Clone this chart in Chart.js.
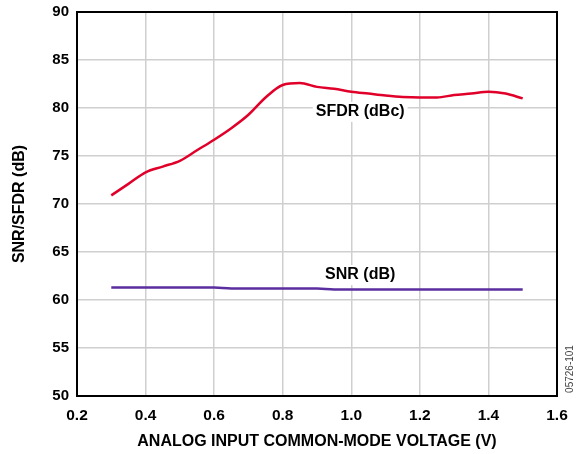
<!DOCTYPE html>
<html>
<head>
<meta charset="utf-8">
<script src="https://cdn.jsdelivr.net/npm/chart.js@4/dist/chart.umd.min.js"></script>
<style>
  html, body { margin: 0; padding: 0; background: #fff; }
  #wrap { width: 580px; height: 454px; }
</style>
</head>
<body>
<div id="wrap"><canvas id="myChart" width="580" height="454"></canvas></div>
<script>
// common-mode voltage (V)
const voltaje = [0.30, 0.35, 0.40, 0.45, 0.50, 0.55, 0.60, 0.65, 0.70, 0.75, 0.80, 0.85, 0.90, 0.95,
                 1.00, 1.05, 1.10, 1.15, 1.20, 1.25, 1.30, 1.35, 1.40, 1.45, 1.50];
const sfdr = [70.9, 72.1, 73.3, 73.9, 74.5, 75.6, 76.7, 77.9, 79.3, 81.1, 82.4, 82.6, 82.2, 82.0,
              81.7, 81.5, 81.3, 81.15, 81.1, 81.1, 81.35, 81.5, 81.7, 81.5, 81.0];
const snr = [61.3, 61.3, 61.3, 61.3, 61.3, 61.3, 61.3, 61.2, 61.2, 61.2, 61.2, 61.2, 61.2, 61.1,
             61.1, 61.1, 61.1, 61.1, 61.1, 61.1, 61.1, 61.1, 61.1, 61.1, 61.1];
const xTicks = [0.2, 0.4, 0.6, 0.8, 1.0, 1.2, 1.4, 1.6];
const yTicks = [50, 55, 60, 65, 70, 75, 80, 85, 90];
// curve labels: [text, x, y]
const etiquetas = [['SFDR (dBc)', 1.026, 79.6], ['SNR (dB)', 1.026, 62.6]];
const codigo = '05726-101';

const fuente = "'Liberation Sans', Arial, sans-serif";
const toPts = (ys) => voltaje.map((v, i) => ({ x: v, y: ys[i] }));

// curve labels (under the lines), frame round the plot and figure code
const extras = {
    id: 'extras',
    beforeDatasetsDraw(chart) {
        const { ctx, scales } = chart;
        ctx.save();
        ctx.font = 'bold 16px ' + fuente;
        ctx.textAlign = 'center';
        ctx.textBaseline = 'middle';
        etiquetas.forEach(([txt, xv, yv]) => {
            const px = scales.x.getPixelForValue(xv);
            const py = scales.y.getPixelForValue(yv);
            const w = ctx.measureText(txt).width;
            ctx.fillStyle = '#fff';
            ctx.fillRect(px - w / 2 - 3, py - 10, w + 6, 20);
            ctx.fillStyle = '#000';
            ctx.fillText(txt, px, py);
        });
        ctx.restore();
    },
    afterDatasetsDraw(chart) {
        const { ctx, chartArea: a } = chart;
        ctx.save();
        ctx.strokeStyle = '#000';
        ctx.lineWidth = 2;
        ctx.strokeRect(a.left, a.top, a.right - a.left, a.bottom - a.top);

        ctx.translate(a.right + 13, a.bottom - 27);
        ctx.rotate(-Math.PI / 2);
        ctx.font = '10px ' + fuente;
        ctx.textAlign = 'center';
        ctx.textBaseline = 'middle';
        ctx.fillStyle = '#444';
        ctx.fillText(codigo, 0, 0);
        ctx.restore();
    }
};

const ctx = document.querySelector('#myChart').getContext('2d');
new Chart(ctx, {
    type: 'line',
    data: {
        datasets: [
            { label: 'SFDR (dBc)', data: toPts(sfdr), borderColor: '#e0002a', borderWidth: 2.5,
              pointRadius: 0, cubicInterpolationMode: 'monotone' },
            { label: 'SNR (dB)', data: toPts(snr), borderColor: '#5b2ea0', borderWidth: 2.5,
              pointRadius: 0, cubicInterpolationMode: 'monotone' }
        ]
    },
    options: {
        responsive: false,
        animation: false,
        layout: { padding: { top: 12, right: 23, left: 0, bottom: 0 } },
        plugins: { legend: { display: false }, tooltip: { enabled: false } },
        scales: {
            x: {
                type: 'linear', min: 0.2, max: 1.6,
                afterBuildTicks: (s) => { s.ticks = xTicks.map(v => ({ value: v })); },
                afterFit: (s) => { s.height = 58; s.paddingLeft = 0; s.paddingRight = 0; },
                ticks: { color: '#000', padding: 10, font: { family: fuente, size: 15.5, weight: 'bold' },
                         callback: (v) => v.toFixed(1) },
                grid: { color: '#cfcfcf', lineWidth: 1.5, drawTicks: false },
                border: { display: false },
                title: { display: true, text: 'ANALOG INPUT COMMON-MODE VOLTAGE (V)', color: '#000',
                         font: { family: fuente, size: 16, weight: 'bold' }, padding: { bottom: 3, top: 0 } }
            },
            y: {
                min: 50, max: 90,
                afterBuildTicks: (s) => { s.ticks = yTicks.map(v => ({ value: v })); },
                afterFit: (s) => { s.width = 77; s.paddingTop = 0; s.paddingBottom = 0; },
                ticks: { color: '#000', padding: 8, font: { family: fuente, size: 15, weight: 'bold' } },
                grid: { color: '#cfcfcf', lineWidth: 1.5, drawTicks: false },
                border: { display: false },
                title: { display: true, text: 'SNR/SFDR (dB)', color: '#000',
                         font: { family: fuente, size: 16, weight: 'bold' }, padding: { top: 10, bottom: 0 } }
            }
        }
    },
    plugins: [extras]
});
</script>
</body>
</html>
